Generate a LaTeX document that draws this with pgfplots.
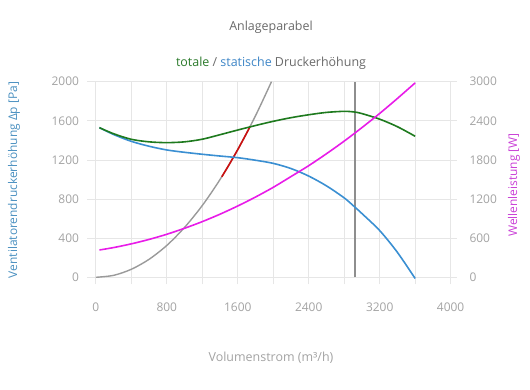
\documentclass[border=0pt]{standalone}
\usepackage{pgfplots}
\pgfplotsset{compat=1.18}
\usepackage{fontspec}
\setmainfont{Open Sans}
\definecolor{cgreen}{HTML}{1E7A1E}
\definecolor{cblue}{HTML}{3A8FD2}
\definecolor{cmag}{HTML}{E81CE8}
\definecolor{cgray}{HTML}{9A9A9A}
\definecolor{cvline}{HTML}{8E8E8E}
\definecolor{cred}{HTML}{CC1010}
\definecolor{cgrid}{HTML}{E6E6E6}
\definecolor{ctick}{HTML}{A3A3A3}
\definecolor{ctitle}{HTML}{6A6A6A}
\definecolor{cylab}{HTML}{4A90C0}
\definecolor{cwlab}{HTML}{C93FD6}
\definecolor{csubg}{HTML}{2B7A2B}
\definecolor{csubb}{HTML}{3D85C6}

\pgfplotstableread{
x y
40 1530
200 1460
400 1390
600 1340
800 1302
1000 1278
1200 1258
1400 1240
1600 1223
1800 1197
2000 1165
2200 1112
2400 1035
2600 935
2800 812
2915 722
3000 652
3200 478
3400 255
3600 -12
}\statisch

\pgfplotstableread{
x y
40 1530
200 1468
400 1411
600 1385
800 1377
1000 1385
1200 1412
1400 1458
1600 1506
1800 1552
2000 1595
2200 1632
2400 1662
2600 1686
2800 1697
2915 1690
3000 1674
3200 1617
3400 1540
3600 1442
}\total

\pgfplotstableread{
x y
0 0
200 20
400 82
600 184
800 326
1000 510
1200 734
1400 1000
1600 1306
1800 1652
1980 2000
}\parabel

\pgfplotstableread{
x y
1420 1028
1500 1148
1600 1306
1700 1474
1740 1544
}\betrieb

\pgfplotstableread{
x y
2918 0
2918 2000
}\vline

\pgfplotstableread{
x y
40 419
200 456
400 513
600 581
800 660
1000 752
1200 854
1400 968
1600 1094
1800 1231
2000 1380
2200 1545
2400 1712
2600 1895
2800 2089
3000 2296
3200 2513
3400 2743
3600 2982
}\leistung

\begin{document}
\begin{tikzpicture}
\pgfplotsset{
  common/.style={
    scale only axis, width=370bp, height=195.6bp,
    xmin=-100, xmax=4072,
    clip=false,
    axis line style={draw=none},
    tick label style={font=\fontsize{12}{14}\selectfont, text=ctick},
    /pgf/number format/assume math mode=true,
    /pgf/number format/1000 sep={},
    scaled ticks=false,
  }
}
\begin{axis}[common, name=ax,
  ymin=0, ymax=2000,
  xtick={0,800,...,4000}, minor xtick={400,1200,...,3600},
  ytick={0,400,...,2000},
  grid=both,
  major grid style={cgrid, line width=0.8bp},
  minor grid style={cgrid, line width=0.8bp},
  tick align=outside,
  xtick pos=lower, ytick pos=left,
  major tick length=7bp, minor tick length=7bp,
  xtick style={cgrid, line width=0.8bp},
  ytick style={draw=none},
  xticklabel style={yshift=-15bp},
  yticklabel style={xshift=2.5bp},
]
\addplot[cgray, line width=1.4bp, smooth] table {\parabel};
\addplot[cred, line width=1.6bp, smooth] table {\betrieb};
\addplot[cvline, line width=1.8bp] table {\vline};
\addplot[cblue, line width=1.6bp, smooth] table {\statisch};
\addplot[cgreen, line width=1.6bp, smooth] table {\total};
\end{axis}
\begin{axis}[common,
  ymin=0, ymax=3000,
  axis x line=none, axis y line*=right,
  ytick={0,600,...,3000},
  major tick length=0bp,
  ytick style={draw=none},
  yticklabel style={xshift=9bp},
]
\addplot[cmag, line width=1.6bp, smooth] table {\leistung};
\end{axis}
\node[anchor=base, font=\fontsize{12.5}{14}\selectfont, text=ctitle] at ([shift={(184bp,246.6bp)}]ax.south west) {Anlageparabel};
\node[anchor=base, font=\fontsize{12.5}{14}\selectfont, text=ctitle] at ([shift={(184bp,210.6bp)}]ax.south west) {\textcolor{csubg}{totale} / \textcolor{csubb}{statische} Druckerhöhung};
\node[anchor=base, font=\fontsize{12.5}{14}\selectfont, text=ctick] at ([shift={(184bp,-84.4bp)}]ax.south west) {Volumenstrom (m³/h)};
\node[font=\fontsize{12}{14}\selectfont, text=cylab, rotate=90] at ([shift={(-73bp,97.3bp)}]ax.south west) {Ventilatorendruckerhöhung Δp [Pa]};
\node[font=\fontsize{12}{14}\selectfont, text=cwlab, rotate=90] at ([shift={(427bp,92.3bp)}]ax.south west) {Wellenleistung [W]};
\pgfresetboundingbox
\path[use as bounding box] ([shift={(-87bp,-112.7bp)}]ax.south west) rectangle ++(530bp,390bp);
\end{tikzpicture}
\end{document}
